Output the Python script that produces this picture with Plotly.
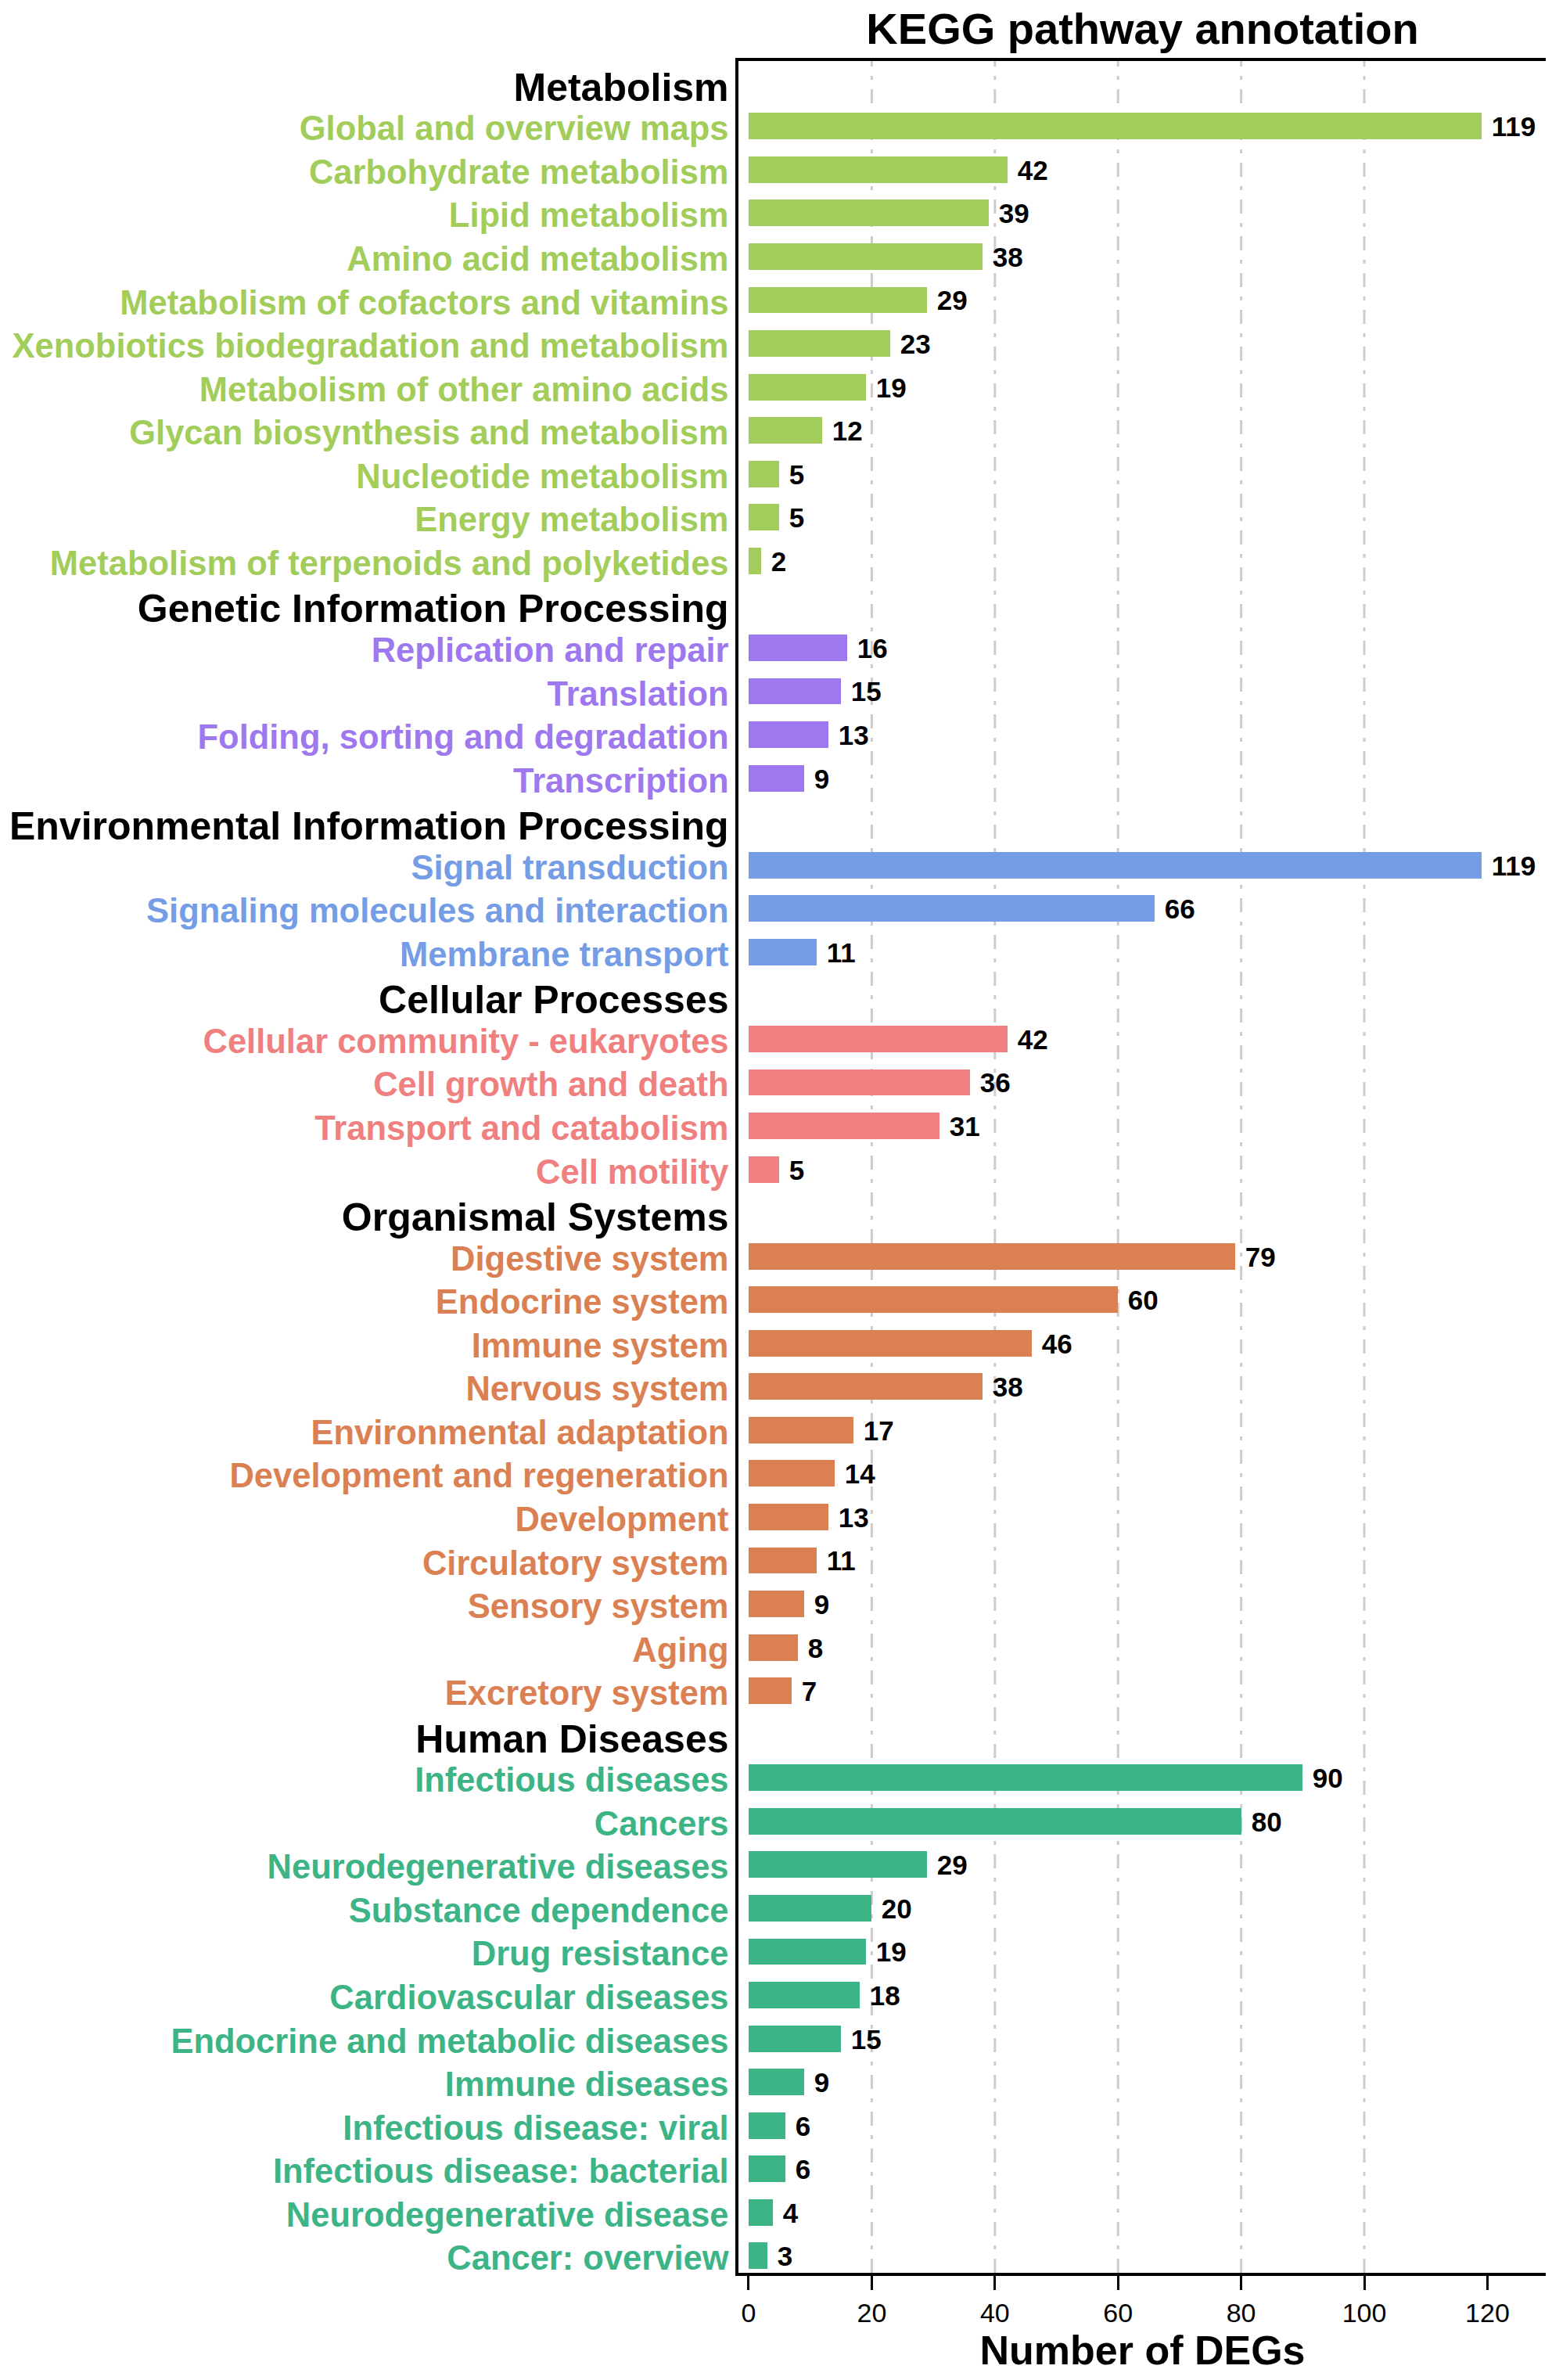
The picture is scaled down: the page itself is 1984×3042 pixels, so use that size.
import plotly.graph_objects as go

# KEGG level-1 groups and their colours
groups = ["Metabolism", "Genetic Information Processing",
          "Environmental Information Processing", "Cellular Processes",
          "Organismal Systems", "Human Diseases"]
group_colors = ["#A2CD5A", "#9E78EE", "#749DE6", "#F08080", "#DB8052", "#3CB486"]

metabolism_terms = ["Global and overview maps", "Carbohydrate metabolism", "Lipid metabolism",
                    "Amino acid metabolism", "Metabolism of cofactors and vitamins",
                    "Xenobiotics biodegradation and metabolism", "Metabolism of other amino acids",
                    "Glycan biosynthesis and metabolism", "Nucleotide metabolism",
                    "Energy metabolism", "Metabolism of terpenoids and polyketides"]
metabolism_counts = [119, 42, 39, 38, 29, 23, 19, 12, 5, 5, 2]

genetic_terms = ["Replication and repair", "Translation", "Folding, sorting and degradation",
                 "Transcription"]
genetic_counts = [16, 15, 13, 9]

environmental_terms = ["Signal transduction", "Signaling molecules and interaction",
                       "Membrane transport"]
environmental_counts = [119, 66, 11]

cellular_terms = ["Cellular community - eukaryotes", "Cell growth and death",
                  "Transport and catabolism", "Cell motility"]
cellular_counts = [42, 36, 31, 5]

organismal_terms = ["Digestive system", "Endocrine system", "Immune system", "Nervous system",
                    "Environmental adaptation", "Development and regeneration", "Development",
                    "Circulatory system", "Sensory system", "Aging", "Excretory system"]
organismal_counts = [79, 60, 46, 38, 17, 14, 13, 11, 9, 8, 7]

disease_terms = ["Infectious diseases", "Cancers", "Neurodegenerative diseases",
                 "Substance dependence", "Drug resistance", "Cardiovascular diseases",
                 "Endocrine and metabolic diseases", "Immune diseases",
                 "Infectious disease: viral", "Infectious disease: bacterial",
                 "Neurodegenerative disease", "Cancer: overview"]
disease_counts = [90, 80, 29, 20, 19, 18, 15, 9, 6, 6, 4, 3]

all_terms = [metabolism_terms, genetic_terms, environmental_terms,
             cellular_terms, organismal_terms, disease_terms]
all_counts = [metabolism_counts, genetic_counts, environmental_counts,
              cellular_counts, organismal_counts, disease_counts]

grid_vals = [20, 40, 60, 80, 100]
x_ticks = [0, 20, 40, 60, 80, 100, 120]

FONT = "Liberation Sans, Arial, sans-serif"

# one row per header and per term, top to bottom
row_names = []
row_text = []
label_pos = []   # labels sit a little below the row centre, headers a bit more
for g, col, terms in zip(groups, group_colors, all_terms):
    label_pos.append(len(row_names) + 0.14)
    row_names.append(g)
    row_text.append('<span style="font-size:50px;color:#000000">%s</span>' % g)
    for t in terms:
        label_pos.append(len(row_names) + 0.05)
        row_names.append(t)
        row_text.append('<span style="color:%s">%s</span>' % (col, t))

fig = go.Figure()
for g, col, terms, counts in zip(groups, group_colors, all_terms, all_counts):
    fig.add_trace(go.Bar(
        x=counts,
        y=[row_names.index(t) for t in terms],
        orientation="h",
        width=0.61,
        marker=dict(color=col, line=dict(width=0)),
        texttemplate="\u00a0%{x}",
        textposition="outside",
        constraintext="none",
        cliponaxis=False,
        textfont=dict(family=FONT, size=35, color="black", weight="bold"),
        name=g,
        showlegend=False,
    ))

shapes = []
for v in grid_vals:
    shapes.append(dict(type="line", xref="x", yref="paper", x0=v, x1=v, y0=0, y1=1,
                       layer="below",
                       line=dict(color="#CDCDCD", width=3, dash="18px,12px,5px,12px")))

# the page body adds an 8px margin, so the figure is 8px smaller each way
W, H = 1976, 3034
fig.update_layout(
    width=W, height=H,
    margin=dict(l=936, r=7, t=70, b=137),
    plot_bgcolor="white", paper_bgcolor="white",
    bargap=0,
    shapes=shapes,
    title=dict(text="KEGG pathway annotation", x=0.5, xref="paper", xanchor="center",
               y=1 - 28 / H, yref="container", yanchor="middle",
               font=dict(family=FONT, size=56, color="black", weight="bold")),
    xaxis=dict(
        range=[-1.65, 129.6],
        tickvals=x_ticks,
        ticks="outside", ticklen=18, tickwidth=3.3, tickcolor="black",
        tickfont=dict(family=FONT, size=34, color="black"),
        showgrid=False, zeroline=False, automargin=False,
        showline=True, linewidth=3.5, linecolor="black", mirror=True,
        title=dict(text="Number of DEGs", standoff=12,
                   font=dict(family=FONT, size=52, color="black", weight="bold")),
    ),
    yaxis=dict(
        range=[len(row_names) - 1 + 0.39, -0.5],
        tickvals=label_pos,
        ticktext=row_text,
        ticks="", ticklabelstandoff=0,
        tickfont=dict(family=FONT, size=43.5, weight="bold"),
        showgrid=False, zeroline=False, automargin=False,
        showline=True, linewidth=3.5, linecolor="black", mirror=True,
    ),
)

fig.write_html("out.html")
